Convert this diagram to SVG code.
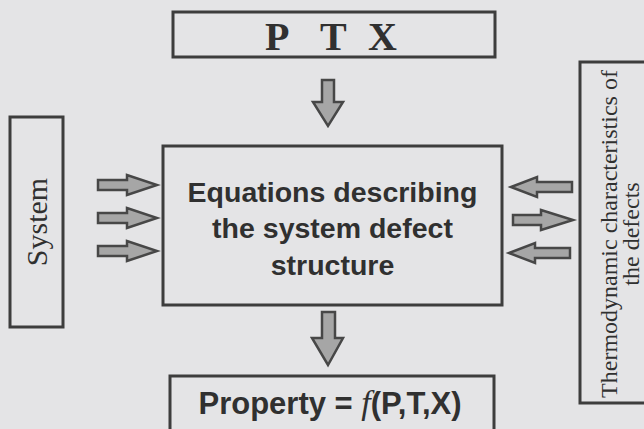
<svg xmlns="http://www.w3.org/2000/svg" width="644" height="429" viewBox="0 0 644 429">
<style>
.box{fill:none;stroke:#3d3d3d;stroke-width:3}
.arrow{fill:#a6a6a6;stroke:#474747;stroke-width:2.5;stroke-linejoin:miter}
.sans{font-family:"Liberation Sans",Arial,sans-serif;font-weight:bold;fill:#303030}
.serif{font-family:"Liberation Serif","Times New Roman",serif;fill:#303030}
</style>
<rect width="644" height="429" fill="#e4e4e6"/>
<g id="connectors">
<polygon class="arrow" points="322,80 334,80 334,102 343,102 328,126 313,102 322,102"/>
<polygon class="arrow" points="322,312 335,312 335,338 343,338 328,365 312,338 322,338"/>
<polygon class="arrow" points="98,180 127,180 127,175 157,185 127,195 127,190 98,190"/>
<polygon class="arrow" points="98,213 127,213 127,208 157,218 127,228 127,223 98,223"/>
<polygon class="arrow" points="98,246 127,246 127,241 157,251 127,261 127,256 98,256"/>
<polygon class="arrow" points="572,182 537,182 537,177 511,187 537,197 537,192 572,192"/>
<polygon class="arrow" points="513,215 541,215 541,210 573,220 541,230 541,225 513,225"/>
<polygon class="arrow" points="570,248 535,248 535,243 509,253 535,263 535,258 570,258"/>
</g>
<g id="ptx">
<rect class="box" x="173" y="12" width="322" height="45"/>
<text class="serif" font-weight="bold" font-size="40" x="265 320 368" y="50">PTX</text>
</g>
<g id="equations">
<rect class="box" x="163" y="146" width="339" height="159"/>
<text class="sans" font-size="28.5" text-anchor="middle" x="332.5" y="202">Equations describing</text>
<text class="sans" font-size="28.5" text-anchor="middle" x="332.5" y="238">the system defect</text>
<text class="sans" font-size="28.5" text-anchor="middle" x="332.5" y="275">structure</text>
</g>
<g id="system">
<rect class="box" x="10" y="117" width="53" height="210"/>
<text class="serif" font-size="30" text-anchor="middle" transform="translate(47,222) rotate(-90)">System</text>
</g>
<g id="thermo">
<rect class="box" x="580" y="62" width="100" height="341"/>
<text class="serif" font-size="24" text-anchor="middle" transform="translate(617,234) rotate(-90)">Thermodynamic characteristics of</text>
<text class="serif" font-size="24" text-anchor="middle" transform="translate(639,234) rotate(-90)">the defects</text>
</g>
<g id="property">
<rect class="box" x="170" y="376" width="324" height="70"/>
<text class="sans" font-size="31" text-anchor="middle" x="330" y="414">Property = <tspan font-family="Liberation Serif" font-style="italic" font-weight="normal" font-size="34">f</tspan>(P,T,X)</text>
</g>
</svg>
